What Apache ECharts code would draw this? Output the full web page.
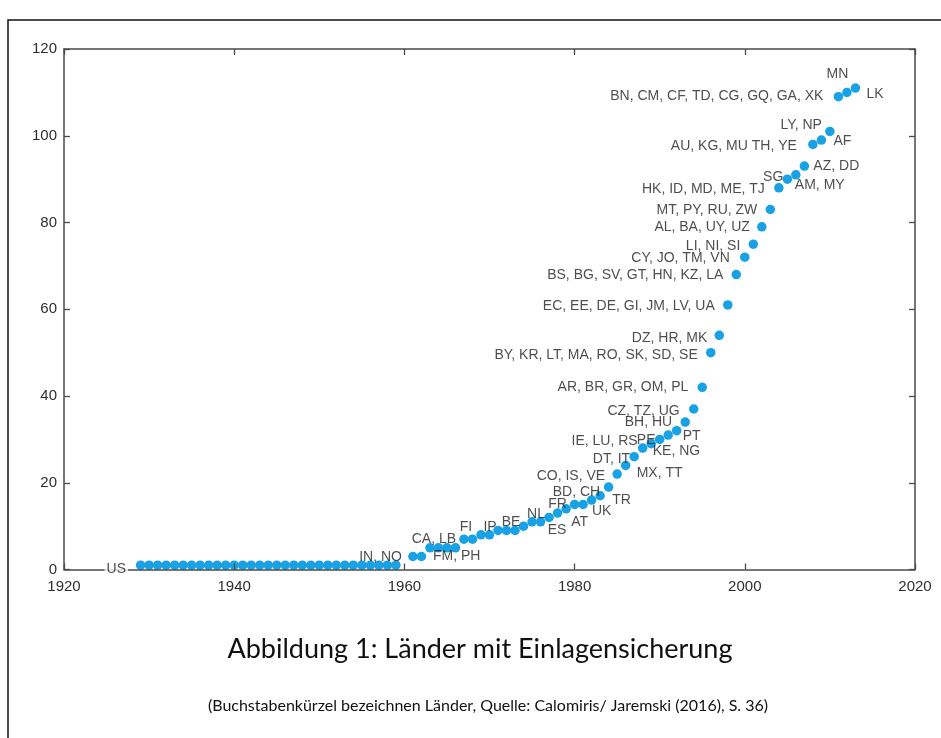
<!DOCTYPE html>
<html><head><meta charset="utf-8">
<script src="https://cdn.jsdelivr.net/npm/echarts@6/dist/echarts.min.js"></script>
<style>html,body{margin:0;padding:0;background:#fff;}#c{width:941px;height:738px;}</style>
</head><body><div id="c"></div>
<script>
// ---- data ----
const years = [1929,1930,1931,1932,1933,1934,1935,1936,1937,1938,1939,1940,1941,1942,1943,1944,1945,1946,1947,1948,1949,1950,1951,1952,1953,1954,1955,1956,1957,1958,1959,
  1961,1962,1963,1964,1965,1966,1967,1968,1969,1970,1971,1972,1973,1974,1975,1976,1977,1978,1979,1980,1981,1982,1983,1984,1985,1986,1987,1988,1989,1990,
  1991,1992,1993,1994,1995,1996,1997,1998,1999,2000,2001,2002,2003,2004,2005,2006,2007,2008,2009,2010,2011,2012,2013];
const counts = [1,1,1,1,1,1,1,1,1,1,1,1,1,1,1,1,1,1,1,1,1,1,1,1,1,1,1,1,1,1,1,
  3,3,5,5,5,5,7,7,8,8,9,9,9,10,11,11,12,13,14,15,15,16,17,19,22,24,26,28,29,30,
  31,32,34,37,42,50,54,61,68,72,75,79,83,88,90,91,93,98,99,101,109,110,111];
const labelYears = [1929,1961,1963,1965,1967,1969,1972,1975,1977,1978,1980,1983,1982,1984,1985,1986,1987,1988,1989,1990,
  1993,1992,1994,1995,1996,1997,1998,1999,2000,2001,2002,2003,2004,2005,2006,2007,2008,2009,2010,2011,2012,2013];
const labelTexts = ['US','IN, NO','CA, LB','FM, PH','FI','IP','BE','NL','ES','FR','AT','BD, CH','UK','TR','CO, IS, VE','MX, TT','DT, IT','IE, LU, RS','PE','KE, NG',
  'BH, HU','PT','CZ, TZ, UG','AR, BR, GR, OM, PL','BY, KR, LT, MA, RO, SK, SD, SE','DZ, HR, MK','EC, EE, DE, GI, JM, LV, UA','BS, BG, SV, GT, HN, KZ, LA',
  'CY, JO, TM, VN','LI, NI, SI','AL, BA, UY, UZ','MT, PY, RU, ZW','HK, ID, MD, ME, TJ','SG','AM, MY','AZ, DD','AU, KG, MU TH, YE','AF','LY, NP',
  'BN, CM, CF, TD, CG, GQ, GA, XK','MN','LK'];
const xTicks = [1920, 2020, 20];
const yTicks = [0, 120, 20];
const titleText = 'Abbildung 1: Länder mit Einlagensicherung';
const subtitleText = '(Buchstabenkürzel bezeichnen Länder, Quelle: Calomiris/ Jaremski (2016), S. 36)';

// ---- label layout (style only): [align, dx, dy] ----
const labelLayout = [
  ['right',-12.6,3.5],['right',-11,1],['center',4,-9],['left',-14,8],['center',2,-12],['center',9,-7.5],['center',4.5,-8.5],['center',4,-8],
  ['center',8,12.5],['center',0,-9],['center',5,18],['right',0,-4],['center',10,11],['center',13,13],['right',-12,2],['left',11,8],
  ['right',-4,2],['right',-5,-7],['center',-5,-3.5],['left',-7,12],['right',-13,0.5],['left',6,5.5],['right',-14,2.5],['right',-14,0],
  ['right',-13,2.5],['right',-12,2.5],['right',-13,1.5],['right',-13,0.5],['right',-15,1],['right',-13,2],['right',-12,0],['right',-13,1],
  ['right',-14,1],['right',-4,-1.5],['left',-1,10.5],['left',9,0.5],['right',-16,2],['left',12,1],['right',-8,-6],['right',-15,-1],
  ['center',-9.5,-18],['left',11,6]
];

const pointData = years.map((y, i) => [y, counts[i]]);
const labelData = labelYears.map((y, i) => {
  const l = labelLayout[i];
  const item = {
    value: [y, counts[years.indexOf(y)]],
    label: { formatter: labelTexts[i], align: l[0], offset: [l[1], l[2]] }
  };
  if (labelTexts[i] === 'US') { item.label.backgroundColor = '#fff'; item.label.padding = [0, 2]; }
  return item;
});

const axColor = '#4a4a4a';
function mkAxis(pos, showLabel, range) {
  return {
    type: 'value', min: range[0], max: range[1], interval: range[2], position: pos, z: 5,
    axisLine: { show: true, onZero: false, lineStyle: { color: axColor, width: 1.5 } },
    axisTick: { show: true, inside: true, length: 6, lineStyle: { color: axColor, width: 1.3 } },
    axisLabel: { show: showLabel, color: '#2e2e2e', fontSize: 15, fontFamily: 'Liberation Sans',
      margin: pos === 'bottom' ? 10 : 7, formatter: v => String(v) },
    splitLine: { show: false }
  };
}

const chart = echarts.init(document.getElementById('c'), null, { renderer: 'canvas' });
chart.setOption({
  animation: false,
  backgroundColor: '#fff',
  grid: { left: 64, top: 49, width: 851, height: 520.5 },
  xAxis: [mkAxis('bottom', true, xTicks), mkAxis('top', false, xTicks)],
  yAxis: [mkAxis('left', true, yTicks), mkAxis('right', false, yTicks)],
  series: [
    { type: 'scatter', data: pointData, symbol: 'circle', symbolSize: 9.5, itemStyle: { color: '#18a1e4', opacity: 1 }, z: 2 },
    { type: 'scatter', data: labelData, symbol: 'circle', symbolSize: 1, silent: true, z: 6,
      itemStyle: { color: 'rgba(0,0,0,0)' },
      label: { show: true, position: 'inside', verticalAlign: 'middle', color: '#222', fontSize: 14, fontFamily: 'Liberation Sans' } }
  ],
  graphic: [
    { type: 'rect', shape: { x: 8, y: 20, width: 950, height: 740 }, style: { fill: 'none', stroke: '#111', lineWidth: 1.5 }, silent: true },
    { type: 'text', x: 480, y: 649, style: { text: titleText, textAlign: 'center', textVerticalAlign: 'middle', fill: '#111', font: '27px Lato' } },
    { type: 'text', x: 488, y: 706, style: { text: subtitleText, textAlign: 'center', textVerticalAlign: 'middle', fill: '#111', font: '16px Lato' } }
  ]
});
</script></body></html>
